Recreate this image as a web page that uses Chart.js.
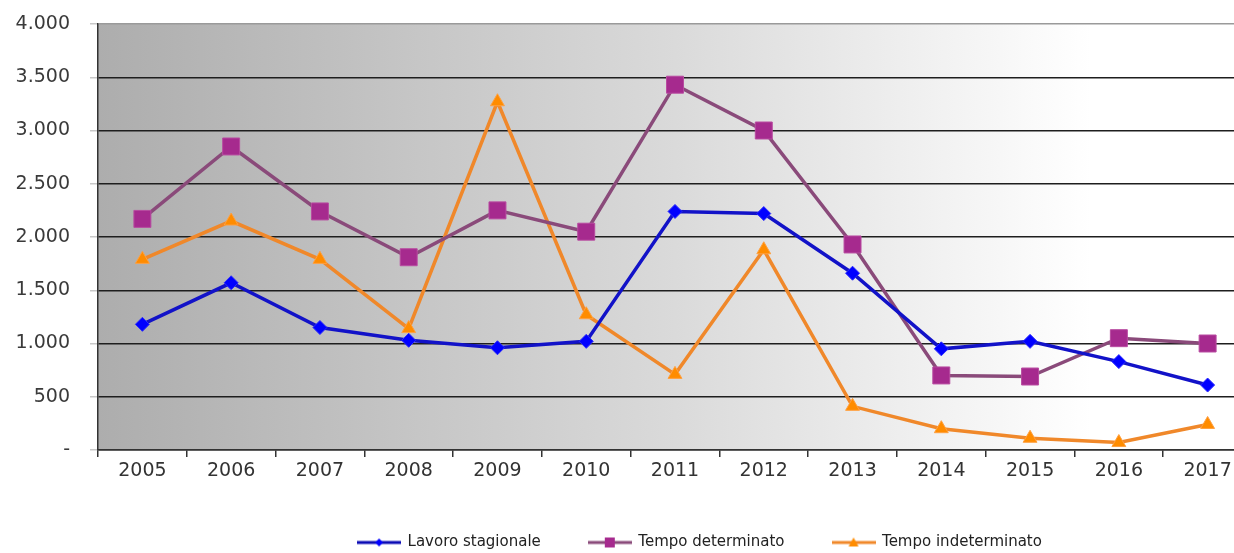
<!DOCTYPE html>
<html>
<head>
<meta charset="utf-8">
<script src="https://cdn.jsdelivr.net/npm/chart.js@4"></script>
<style>
    html, body { margin: 0; padding: 0; background: #fff; overflow: hidden; }
    #wrap { width: 1234px; height: 553px; overflow: hidden; position: relative; }
    #chart { display: block; }
</style>
</head>
<body>
<div id="wrap"><canvas id="chart" width="1400" height="560"></canvas></div>
<script>
'use strict';

const years = ['2005', '2006', '2007', '2008', '2009', '2010', '2011', '2012', '2013', '2014', '2015', '2016', '2017'];
const lavoroStagionale = [1180, 1570, 1150, 1030, 960, 1020, 2240, 2220, 1660, 950, 1020, 830, 610];
const tempoDeterminato = [2170, 2850, 2240, 1810, 2250, 2050, 3430, 3000, 1930, 700, 690, 1050, 1000];
const tempoIndeterminato = [1790, 2150, 1790, 1140, 3270, 1270, 710, 1880, 410, 200, 110, 70, 240];
const seriesNames = ['Lavoro stagionale', 'Tempo determinato', 'Tempo indeterminato'];
const yMax = 4000;
const yStep = 500;

const axisFont = { family: 'DejaVu Sans', size: 19 };

// 4000 -> "4.000", 0 -> "-"
function formatThousands(v) {
    if (v === 0) return '-';
    return String(v).replace(/\B(?=(\d{3})+(?!\d))/g, '.');
}

// small line + marker swatch used as legend symbol
function legendSwatch(lineColor, markColor, shape) {
    const c = document.createElement('canvas');
    c.width = 44;
    c.height = 16;
    const ctx = c.getContext('2d');
    ctx.strokeStyle = lineColor;
    ctx.lineWidth = 3;
    ctx.beginPath();
    ctx.moveTo(0, 8);
    ctx.lineTo(44, 8);
    ctx.stroke();
    ctx.fillStyle = markColor;
    ctx.beginPath();
    if (shape === 'diamond') {
        ctx.moveTo(22, 4); ctx.lineTo(26, 8); ctx.lineTo(22, 12); ctx.lineTo(18, 8);
    } else if (shape === 'square') {
        ctx.rect(17, 3, 10, 10);
    } else {
        ctx.moveTo(22, 3); ctx.lineTo(27, 12); ctx.lineTo(17, 12);
    }
    ctx.closePath();
    ctx.fill();
    return c;
}

const swatches = [
    legendSwatch('#0a0ab4', '#0000ff', 'diamond'),
    legendSwatch('#8a4a7a', '#a62a8e', 'square'),
    legendSwatch('#f0882a', '#ff8c00', 'triangle')
];

// grey-to-white gradient behind the plot area
const plotBackground = {
    id: 'plotBackground',
    beforeDraw(chart) {
        const { ctx, chartArea: a } = chart;
        const g = ctx.createLinearGradient(a.left, 0, a.right, 0);
        g.addColorStop(0, '#adadad');
        g.addColorStop(0.5, '#dadada');
        g.addColorStop(0.86, '#ffffff');
        g.addColorStop(1, '#ffffff');
        ctx.save();
        ctx.fillStyle = g;
        ctx.fillRect(a.left, a.top, a.right - a.left, a.bottom - a.top);
        ctx.restore();
    }
};

new Chart(document.getElementById('chart'), {
    type: 'line',
    data: {
        labels: years,
        datasets: [
            {
                label: seriesNames[0],
                data: lavoroStagionale,
                borderColor: '#1212c8',
                borderWidth: 3.5,
                pointStyle: 'rectRot',
                pointRadius: 7,
                pointBackgroundColor: '#0000ff',
                pointBorderColor: '#2a2aff',
                pointBorderWidth: 1
            },
            {
                label: seriesNames[1],
                data: tempoDeterminato,
                borderColor: '#8a4a7a',
                borderWidth: 3.5,
                pointStyle: 'rect',
                pointRadius: 12,
                pointBackgroundColor: '#a62a8e',
                pointBorderColor: '#b84aa0',
                pointBorderWidth: 1
            },
            {
                label: seriesNames[2],
                data: tempoIndeterminato,
                borderColor: '#f0882a',
                borderWidth: 3.5,
                pointStyle: 'triangle',
                pointRadius: 8,
                pointBackgroundColor: '#ff8c00',
                pointBorderColor: '#ffa040',
                pointBorderWidth: 1
            }
        ]
    },
    options: {
        responsive: false,
        animation: false,
        devicePixelRatio: 1,
        layout: { padding: { top: 24, left: 0, right: 0, bottom: 0 } },
        elements: { line: { tension: 0 } },
        scales: {
            x: {
                offset: true,
                grid: {
                    offset: true,
                    drawOnChartArea: false,
                    drawTicks: true,
                    tickLength: 7,
                    color: '#333',
                    lineWidth: 1.5
                },
                border: { color: '#333', width: 1.5 },
                ticks: { color: '#333', font: axisFont, padding: 3 },
                afterFit(s) { s.height = 37; }
            },
            y: {
                min: 0,
                max: yMax,
                ticks: {
                    stepSize: yStep,
                    color: '#3a3a3a',
                    font: axisFont,
                    padding: 20,
                    callback: (v) => formatThousands(v)
                },
                grid: {
                    color: (c) => (c.tick && c.tick.value === yMax ? '#9a9a9a' : '#1e1e1e'),
                    lineWidth: 1.5,
                    tickLength: 8,
                    tickColor: '#c8c8c8'
                },
                border: { color: '#333', width: 1.5 },
                afterFit(s) {
                    s.width = 98;
                    // tick padding would otherwise push the plot top down
                    s.paddingTop = 11;
                    s.paddingBottom = 11;
                }
            },
            // empty right axis, only reserves space so the plot runs past the right edge
            yRight: {
                type: 'linear',
                position: 'right',
                display: true,
                grid: { display: false },
                border: { display: false },
                ticks: { display: false },
                afterFit(s) { s.width = 148; }
            }
        },
        plugins: {
            legend: {
                position: 'bottom',
                labels: {
                    usePointStyle: true,
                    pointStyleWidth: 42,
                    padding: 48,
                    color: '#222',
                    font: { family: 'DejaVu Sans', size: 15 },
                    generateLabels(chart) {
                        const items = Chart.defaults.plugins.legend.labels.generateLabels(chart);
                        items.forEach((it, i) => { it.pointStyle = swatches[i]; });
                        return items;
                    }
                }
            },
            tooltip: { enabled: false }
        }
    },
    plugins: [plotBackground]
});
</script>
</body>
</html>
